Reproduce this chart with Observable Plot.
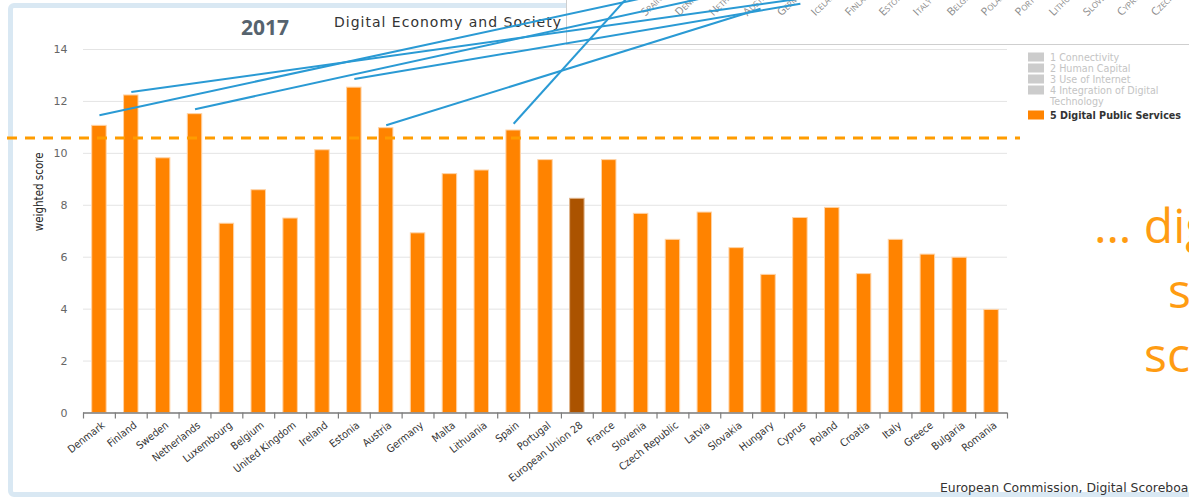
<!DOCTYPE html>
<html>
<head>
<meta charset="utf-8">
<script src="https://cdn.jsdelivr.net/npm/d3@7"></script>
<script src="https://cdn.jsdelivr.net/npm/@observablehq/plot@0.6"></script>
<style>
  html, body { margin: 0; padding: 0; background: #fff; }
  body { width: 1189px; height: 497px; overflow: hidden; position: relative; }
  #box { position: absolute; left: 8px; top: 3px; width: 1400px; height: 484px; border: 5px solid #d9e8f3; border-radius: 6px; background: #fff; }
  #overlay { position: absolute; left: 566px; top: 0; width: 623px; height: 44px; overflow: hidden; border-left: 1px solid #cfcfcf; border-bottom: 1px solid #cfcfcf; background: #fff; }
  #deco { position: absolute; left: 0; top: 0; }
  #chart { position: absolute; left: 0; top: 0; }
  #chart svg, #overlay svg { overflow: visible; }
</style>
</head>
<body>
<div id="box"></div>
<div id="overlay"></div>
<svg id="deco" width="1189" height="497"></svg>
<div id="chart"></div>
<script>
// ---------- data ----------
const countries = ["Denmark","Finland","Sweden","Netherlands","Luxembourg","Belgium","United Kingdom","Ireland","Estonia","Austria","Germany","Malta","Lithuania","Spain","Portugal","European Union 28","France","Slovenia","Czech Republic","Latvia","Slovakia","Hungary","Cyprus","Poland","Croatia","Italy","Greece","Bulgaria","Romania"];
const scores = [11.06, 12.23, 9.81, 11.51, 7.29, 8.58, 7.49, 10.12, 12.53, 10.97, 6.92, 9.20, 9.34, 10.88, 9.74, 8.25, 9.74, 7.67, 6.67, 7.72, 6.35, 5.32, 7.51, 7.90, 5.35, 6.67, 6.10, 5.98, 3.97];
const highlight = "European Union 28";
const referenceScore = 10.59;
const yTicks = [0, 2, 4, 6, 8, 10, 12, 14];

// annotation lines (data space: start above a bar, end at the ranking labels above)
const linkFrom   = ["Denmark", "Finland", "Netherlands", "Estonia", "Austria", "Spain"];
const linkStartY = [11.47, 12.36, 11.70, 12.86, 11.08, 11.14];
const linkEndX   = [17.48, 22.50, 19.37, 22.50, 21.25, 17.04];
const linkEndY   = [15.96, 15.96, 15.96, 15.76, 15.57, 15.96];

// ranking labels of the chart behind (top right)
const rankLabels = ["Spain","Denmark","Netherlands","Austria","Germany","Iceland","Finland","Estonia","Italy","Belgium","Poland","Portugal","Lithuania","Slovenia","Cyprus","Czech Republic"];

const legendItems = ["1 Connectivity", "2 Human Capital", "3 Use of Internet", "4 Integration of Digital|Technology", "5 Digital Public Services"];
const titleYear = "2017";
const titleText = "Digital Economy and Society";
const yLabel = "weighted score";
const caption = "European Commission, Digital Scoreboard";
const slideLines = ["… digital public", "services", "score"];

// ---------- main chart ----------
const table = countries.map((c, i) => ({i, country: c, value: scores[i]}));
const links = linkFrom.map((c, k) => ({x1: countries.indexOf(c) + 0.5, y1: linkStartY[k], x2: linkEndX[k], y2: linkEndY[k]}));

const barInset = 8.7;
const chart = Plot.plot({
  width: 1189,
  height: 480,
  marginLeft: 83,
  marginRight: 182,
  marginTop: 49,
  marginBottom: 67.5,
  style: {background: "transparent", fontFamily: "DejaVu Sans", overflow: "visible"},
  x: {domain: [0, countries.length], axis: null},
  y: {domain: [0, 14], axis: null},
  marks: [
    Plot.gridY(yTicks, {stroke: "#e4e4e4", strokeOpacity: 1, strokeWidth: 1}),
    Plot.axisY(yTicks, {tickSize: 0, tickPadding: 16, fontSize: 11, color: "#666", label: null, fontFamily: "DejaVu Sans"}),
    Plot.text([yLabel], {frameAnchor: "left", dx: -44, rotate: -90, fontSize: 11.5, fill: "#222", fontFamily: "DejaVu Sans Condensed"}),
    Plot.rect(table.filter(d => d.country !== highlight), {x1: "i", x2: d => d.i + 1, y1: 0, y2: "value", fill: "#ff8300", stroke: "#ffd3a6", strokeWidth: 1, insetLeft: barInset, insetRight: barInset}),
    Plot.rect(table.filter(d => d.country === highlight), {x1: "i", x2: d => d.i + 1, y1: 0, y2: "value", fill: "#ab5300", stroke: "#e0b48a", strokeWidth: 1, insetLeft: barInset, insetRight: barInset}),
    Plot.ruleY([0], {stroke: "#7d7d7d", strokeWidth: 1.5}),
    Plot.ruleX(d3.range(countries.length + 1), {x: d => d, y1: 0, y2: 0, insetBottom: -6, stroke: "#7d7d7d", strokeWidth: 1.2}),
    Plot.text(table, {x: d => d.i + 0.5, y: 0, text: "country", rotate: -38, textAnchor: "end", lineAnchor: "middle", dx: 4, dy: 11, fontSize: 10.5, fill: "#333", fontFamily: "DejaVu Sans Condensed"}),
    Plot.ruleY([referenceScore], {stroke: "#ff9c00", strokeWidth: 3, strokeDasharray: "10,8", insetLeft: -76, insetRight: -13}),
    Plot.link(links, {x1: "x1", y1: "y1", x2: "x2", y2: "y2", stroke: "#2a9ad4", strokeWidth: 2})
  ]
});
document.getElementById("chart").appendChild(chart);

// ---------- ranking labels behind (top right) ----------
const overlay = Plot.plot({
  width: 623,
  height: 44,
  margin: 0,
  style: {background: "transparent", overflow: "visible"},
  x: {type: "point", domain: rankLabels, range: [54, 612], axis: null},
  marks: [
    Plot.text(rankLabels, {x: d => d, frameAnchor: "bottom", dy: -28, rotate: -45, textAnchor: "start", fontSize: 11, fill: "#8a8a8a", fontVariant: "small-caps", fontFamily: "Open Sans"})
  ]
});
document.getElementById("overlay").appendChild(overlay);

// ---------- titles, legend, caption, slide text ----------
const deco = d3.select("#deco");
deco.append("text").attr("x", 241).attr("y", 35).attr("font-family", "Open Sans").attr("font-weight", 700).attr("font-size", 21).attr("fill", "#56636e").text(titleYear);
deco.append("text").attr("x", 334).attr("y", 27).attr("font-family", "DejaVu Sans").attr("font-size", 14).attr("letter-spacing", 1).attr("fill", "#333").text(titleText);

const legendY = [57, 68, 79, 90, 115];
legendItems.forEach((item, k) => {
  const active = k === legendItems.length - 1;
  deco.append("rect").attr("x", 1028).attr("y", legendY[k] - 4.5).attr("width", 16).attr("height", 9).attr("fill", active ? "#ff8300" : "#cccccc");
  item.split("|").forEach((line, j) => {
    deco.append("text").attr("x", 1050).attr("y", legendY[k] + 3.5 + j * 11)
      .attr("font-family", "DejaVu Sans").attr("font-size", 9.6).attr("font-weight", active ? 600 : 400)
      .attr("fill", active ? "#333" : "#c4c4c4").text(line);
  });
});

deco.append("text").attr("x", 940).attr("y", 492).attr("font-family", "DejaVu Sans").attr("font-size", 12.4).attr("fill", "#333").text(caption);

const slideX = [1094, 1168, 1144];
const slideY = [243, 308, 372];
slideLines.forEach((t, k) => {
  deco.append("text").attr("x", slideX[k]).attr("y", slideY[k]).attr("font-family", "Open Sans").attr("font-size", 48).attr("fill", "#ff9c12").text(t);
});
</script>
</body>
</html>
